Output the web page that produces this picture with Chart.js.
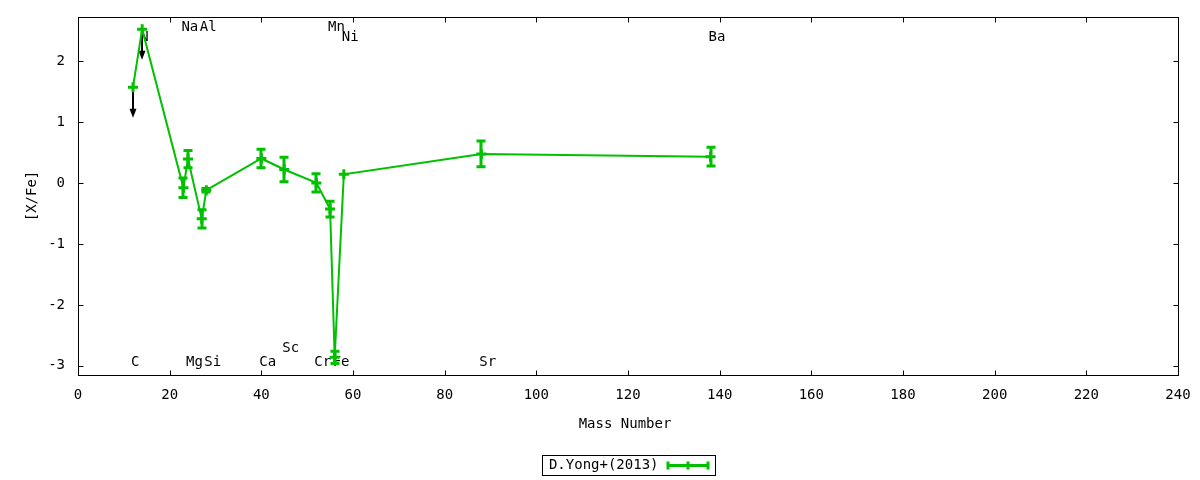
<!DOCTYPE html>
<html><head><meta charset="utf-8">
<script src="https://cdn.jsdelivr.net/npm/chart.js@4"></script>
<style>html,body{margin:0;padding:0;background:#fff}#wrap{width:1200px;height:480px}</style>
</head><body><div id="wrap"><canvas id="c" width="1200" height="480"></canvas></div>
<script>
// ---- data ----
const elements   = ['C','N','Na','Mg','Al','Si','Ca','Sc','Cr','Mn','Fe','Ni','Sr','Ba'];
const massNumber = [12, 14, 23, 24, 27, 28, 40, 45, 52, 55, 56, 58, 88, 138];
const xFe        = [1.57, 2.52, -0.08, 0.39, -0.59, -0.12, 0.40, 0.22, 0.00, -0.43, -2.86, 0.14, 0.475, 0.43];
const xFeErr     = [0, 0, 0.16, 0.14, 0.15, 0.03, 0.15, 0.20, 0.15, 0.13, 0.10, 0, 0.21, 0.155];
const upperLimit = [true, true, false, false, false, false, false, false, false, false, false, false, false, false];
const arrowLength = 0.5;
const labelY     = [-2.95, 2.39, 2.55, -2.95, 2.55, -2.95, -2.95, -2.72, -2.95, 2.55, -2.95, 2.39, -2.95, 2.39];
const xTicks = [0,20,40,60,80,100,120,140,160,180,200,220,240];
const yTicks = [-3,-2,-1,0,1,2];
const seriesLabel = 'D.Yong+(2013)';
const xTitle = 'Mass Number';
const yTitle = '[X/Fe]';

// ---- style ----
const GREEN = 'rgb(0,192,0)';
const FONT = '14px "DejaVu Sans Mono"';
const points = massNumber.map((m,i)=>({x:m, y:xFe[i]}));

const gp = {
  id:'gp',
  beforeDatasetsDraw(chart){
    const {ctx, scales:{x,y}} = chart;
    ctx.save();
    // element labels (behind the data, as in the original)
    ctx.fillStyle='#000'; ctx.font=FONT; ctx.textAlign='left'; ctx.textBaseline='middle';
    elements.forEach((e,i)=>{
      ctx.fillText(e, x.getPixelForValue(massNumber[i])-2, y.getPixelForValue(labelY[i]));
    });
    // upper-limit arrows
    ctx.strokeStyle='#000'; ctx.fillStyle='#000'; ctx.lineWidth=2;
    massNumber.forEach((m,i)=>{
      if(!upperLimit[i]) return;
      const px=Math.round(x.getPixelForValue(m)), y0=y.getPixelForValue(xFe[i]), y1=y.getPixelForValue(xFe[i]-arrowLength);
      ctx.beginPath(); ctx.moveTo(px,y0); ctx.lineTo(px,y1-6); ctx.stroke();
      ctx.beginPath(); ctx.moveTo(px-3.5,y1-9); ctx.lineTo(px+3.5,y1-9); ctx.lineTo(px,y1); ctx.closePath(); ctx.fill();
    });
    ctx.restore();
  },
  afterDatasetsDraw(chart){
    const {ctx, scales:{x,y}} = chart;
    ctx.save();
    ctx.strokeStyle=GREEN; ctx.lineWidth=3;
    massNumber.forEach((m,i)=>{
      if(!xFeErr[i]) return;
      const px=Math.round(x.getPixelForValue(m));
      const yt=y.getPixelForValue(xFe[i]+xFeErr[i]), yb=y.getPixelForValue(xFe[i]-xFeErr[i]);
      ctx.beginPath();
      ctx.moveTo(px,yt); ctx.lineTo(px,yb);
      ctx.moveTo(px-4.5,yt); ctx.lineTo(px+4.5,yt);
      ctx.moveTo(px-4.5,yb); ctx.lineTo(px+4.5,yb);
      ctx.stroke();
    });
    ctx.restore();
  },
  afterDraw(chart){
    const {ctx, chartArea:a, scales:{x,y}} = chart;
    ctx.save();
    // border
    ctx.strokeStyle='#000'; ctx.lineWidth=1;
    ctx.strokeRect(a.left+0.5, a.top+0.5, a.right-a.left, a.bottom-a.top);
    // inward ticks, mirrored
    const tl=5;
    ctx.beginPath();
    x.ticks.forEach(t=>{
      const px=Math.round(x.getPixelForValue(t.value))+0.5;
      ctx.moveTo(px,a.bottom+0.5); ctx.lineTo(px,a.bottom+0.5-tl);
      ctx.moveTo(px,a.top+0.5); ctx.lineTo(px,a.top+0.5+tl);
    });
    y.ticks.forEach(t=>{
      const py=Math.round(y.getPixelForValue(t.value))+0.5;
      ctx.moveTo(a.left+0.5,py); ctx.lineTo(a.left+0.5+tl,py);
      ctx.moveTo(a.right+0.5,py); ctx.lineTo(a.right+0.5-tl,py);
    });
    ctx.stroke();
    // axis titles
    ctx.fillStyle='#000'; ctx.font=FONT; ctx.textBaseline='middle';
    const cx=(a.left+a.right)/2, cy=(a.top+a.bottom)/2;
    ctx.textAlign='center';
    ctx.fillText(xTitle, cx-3, a.bottom+49);
    ctx.save(); ctx.translate(32, cy); ctx.rotate(-Math.PI/2); ctx.fillText(yTitle,0,0); ctx.restore();
    // legend
    const bw=173, bh=20, bl=Math.round(cx-bw/2)+0.5, bt=a.bottom+80.5;
    ctx.strokeRect(bl, bt, bw, bh);
    const ly=bt+bh/2;
    ctx.textAlign='right';
    ctx.fillText(seriesLabel, bl+bw-57, ly);
    ctx.strokeStyle=GREEN; ctx.lineWidth=3;
    const s0=bl+bw-49, s1=bl+bw-6, sm=(s0+s1)/2;
    ctx.beginPath();
    ctx.moveTo(s0,ly); ctx.lineTo(s1,ly);
    ctx.moveTo(s0+1.5,ly-4); ctx.lineTo(s0+1.5,ly+4);
    ctx.moveTo(s1-1.5,ly-4); ctx.lineTo(s1-1.5,ly+4);
    ctx.moveTo(sm,ly-4); ctx.lineTo(sm,ly+4);
    ctx.stroke();
    ctx.restore();
  }
};

new Chart(document.getElementById('c'), {
  type:'line',
  data:{ datasets:[{
    label: seriesLabel,
    data: points,
    borderColor: GREEN, backgroundColor: GREEN,
    borderWidth: 2, tension: 0, fill: false,
    pointStyle: 'cross', pointRadius: 5, pointBorderWidth: 3,
    pointBorderColor: GREEN, pointHoverRadius: 5
  }]},
  options:{
    responsive:false, animation:false, devicePixelRatio:1,
    layout:{ padding:{ left:0, top:17, right:22, bottom:0 } },
    plugins:{ legend:{display:false}, tooltip:{enabled:false} },
    events:[],
    scales:{
      x:{ type:'linear', min:0, max:240,
        afterBuildTicks:s=>{ s.ticks = xTicks.map(v=>({value:v})); },
        afterFit:s=>{ s.height = 105; s.paddingLeft = 0; s.paddingRight = 0; },
        grid:{display:false, drawTicks:false}, border:{display:false},
        ticks:{ font:{family:'DejaVu Sans Mono', size:14}, color:'#000', padding:12, autoSkip:false, maxRotation:0 } },
      y:{ type:'linear', min:-3.15, max:2.72,
        afterBuildTicks:s=>{ s.ticks = yTicks.map(v=>({value:v})); },
        afterFit:s=>{ s.width = 78; s.paddingTop = 0; s.paddingBottom = 0; },
        grid:{display:false, drawTicks:false}, border:{display:false},
        ticks:{ font:{family:'DejaVu Sans Mono', size:14}, color:'#000', padding:13 } }
    }
  },
  plugins:[gp]
});
</script></body></html>
